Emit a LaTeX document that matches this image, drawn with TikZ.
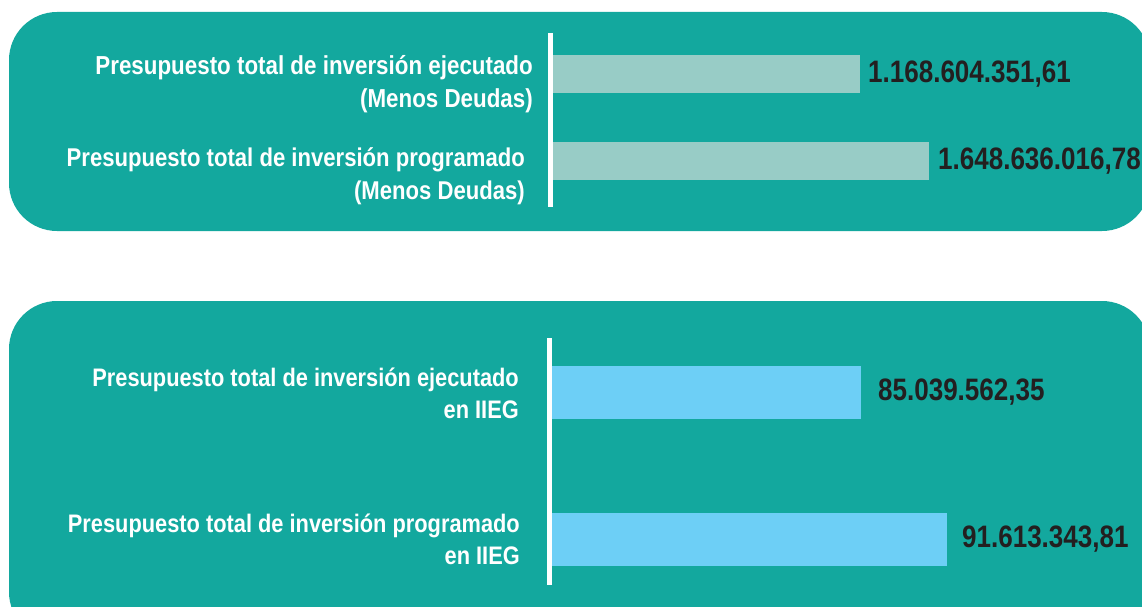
\documentclass[tikz,border=0pt]{standalone}
\usepackage{fontspec}
\setmainfont[FakeStretch=0.84]{Liberation Sans}
\newfontfamily\lblfont[FakeStretch=0.86]{Liberation Sans}
\definecolor{teal1}{HTML}{13A89E}
\definecolor{barA}{HTML}{98CCC6}
\definecolor{barB}{HTML}{6DCFF6}
\definecolor{valtxt}{HTML}{231F20}
\begin{document}
\begin{tikzpicture}[x=1pt,y=-1pt,
  panel/.style={fill=teal1,draw=none,rounded corners=48pt},
  lbl/.style={anchor=east,align=right,text=white,font=\lblfont\fontsize{26}{33}\selectfont\bfseries,inner sep=0pt},
  lblb/.style={lbl,font=\lblfont\fontsize{25.35}{32}\selectfont\bfseries},
  val/.style={anchor=west,text=valtxt,font=\fontsize{31}{36}\selectfont\bfseries,inner sep=0pt},
  axisline/.style={draw=white,line width=5pt},
  bar/.style={anchor=west,inner sep=0pt,draw=none,minimum height=#1}
]
\useasboundingbox (0,0) rectangle (1142,607);
\clip (0,0) rectangle (1142,607);
% panels
\fill[panel] (9,12) rectangle (1150,231);
\fill[panel] (9,301) rectangle (1150,640);
% panel 1
\coordinate (a1t) at (550,33);
\coordinate (a1b) at (550,207);
\draw[axisline] (a1t) -- (a1b);
\node[bar=38pt,fill=barA,minimum width=307pt] (b1) at (552.5,74) {};
\node[bar=38pt,fill=barA,minimum width=376pt] (b2) at (552.5,161) {};
\node[lbl] (l1) at (533,84) {Presupuesto total de inversión ejecutado\\(Menos Deudas)};
\node[lbl,font=\lblfont\fontsize{25.7}{33}\selectfont\bfseries] (l2) at (525,176) {Presupuesto total de inversión programado\\(Menos Deudas)};
\node[val] (v1) at ([xshift=8pt]b1.east) {1.168.604.351,61};
\node[val] (v2) at ([xshift=9pt]b2.east) {1.648.636.016,78};
% panel 2
\coordinate (a2t) at (549,338);
\coordinate (a2b) at (549,585);
\draw[axisline] (a2t) -- (a2b);
\node[bar=53pt,fill=barB,minimum width=309pt] (b3) at (551.5,392.5) {};
\node[bar=53pt,fill=barB,minimum width=395pt] (b4) at (551.5,539.5) {};
\node[lblb] (l3) at (519,393) {Presupuesto total de inversión ejecutado\\en IIEG};
\node[lblb] (l4) at (520,539) {Presupuesto total de inversión programado\\en IIEG};
\node[val] (v3) at ([xshift=17pt]b3.east) {85.039.562,35};
\node[val] (v4) at ([xshift=15pt]b4.east) {91.613.343,81};
\end{tikzpicture}
\end{document}
